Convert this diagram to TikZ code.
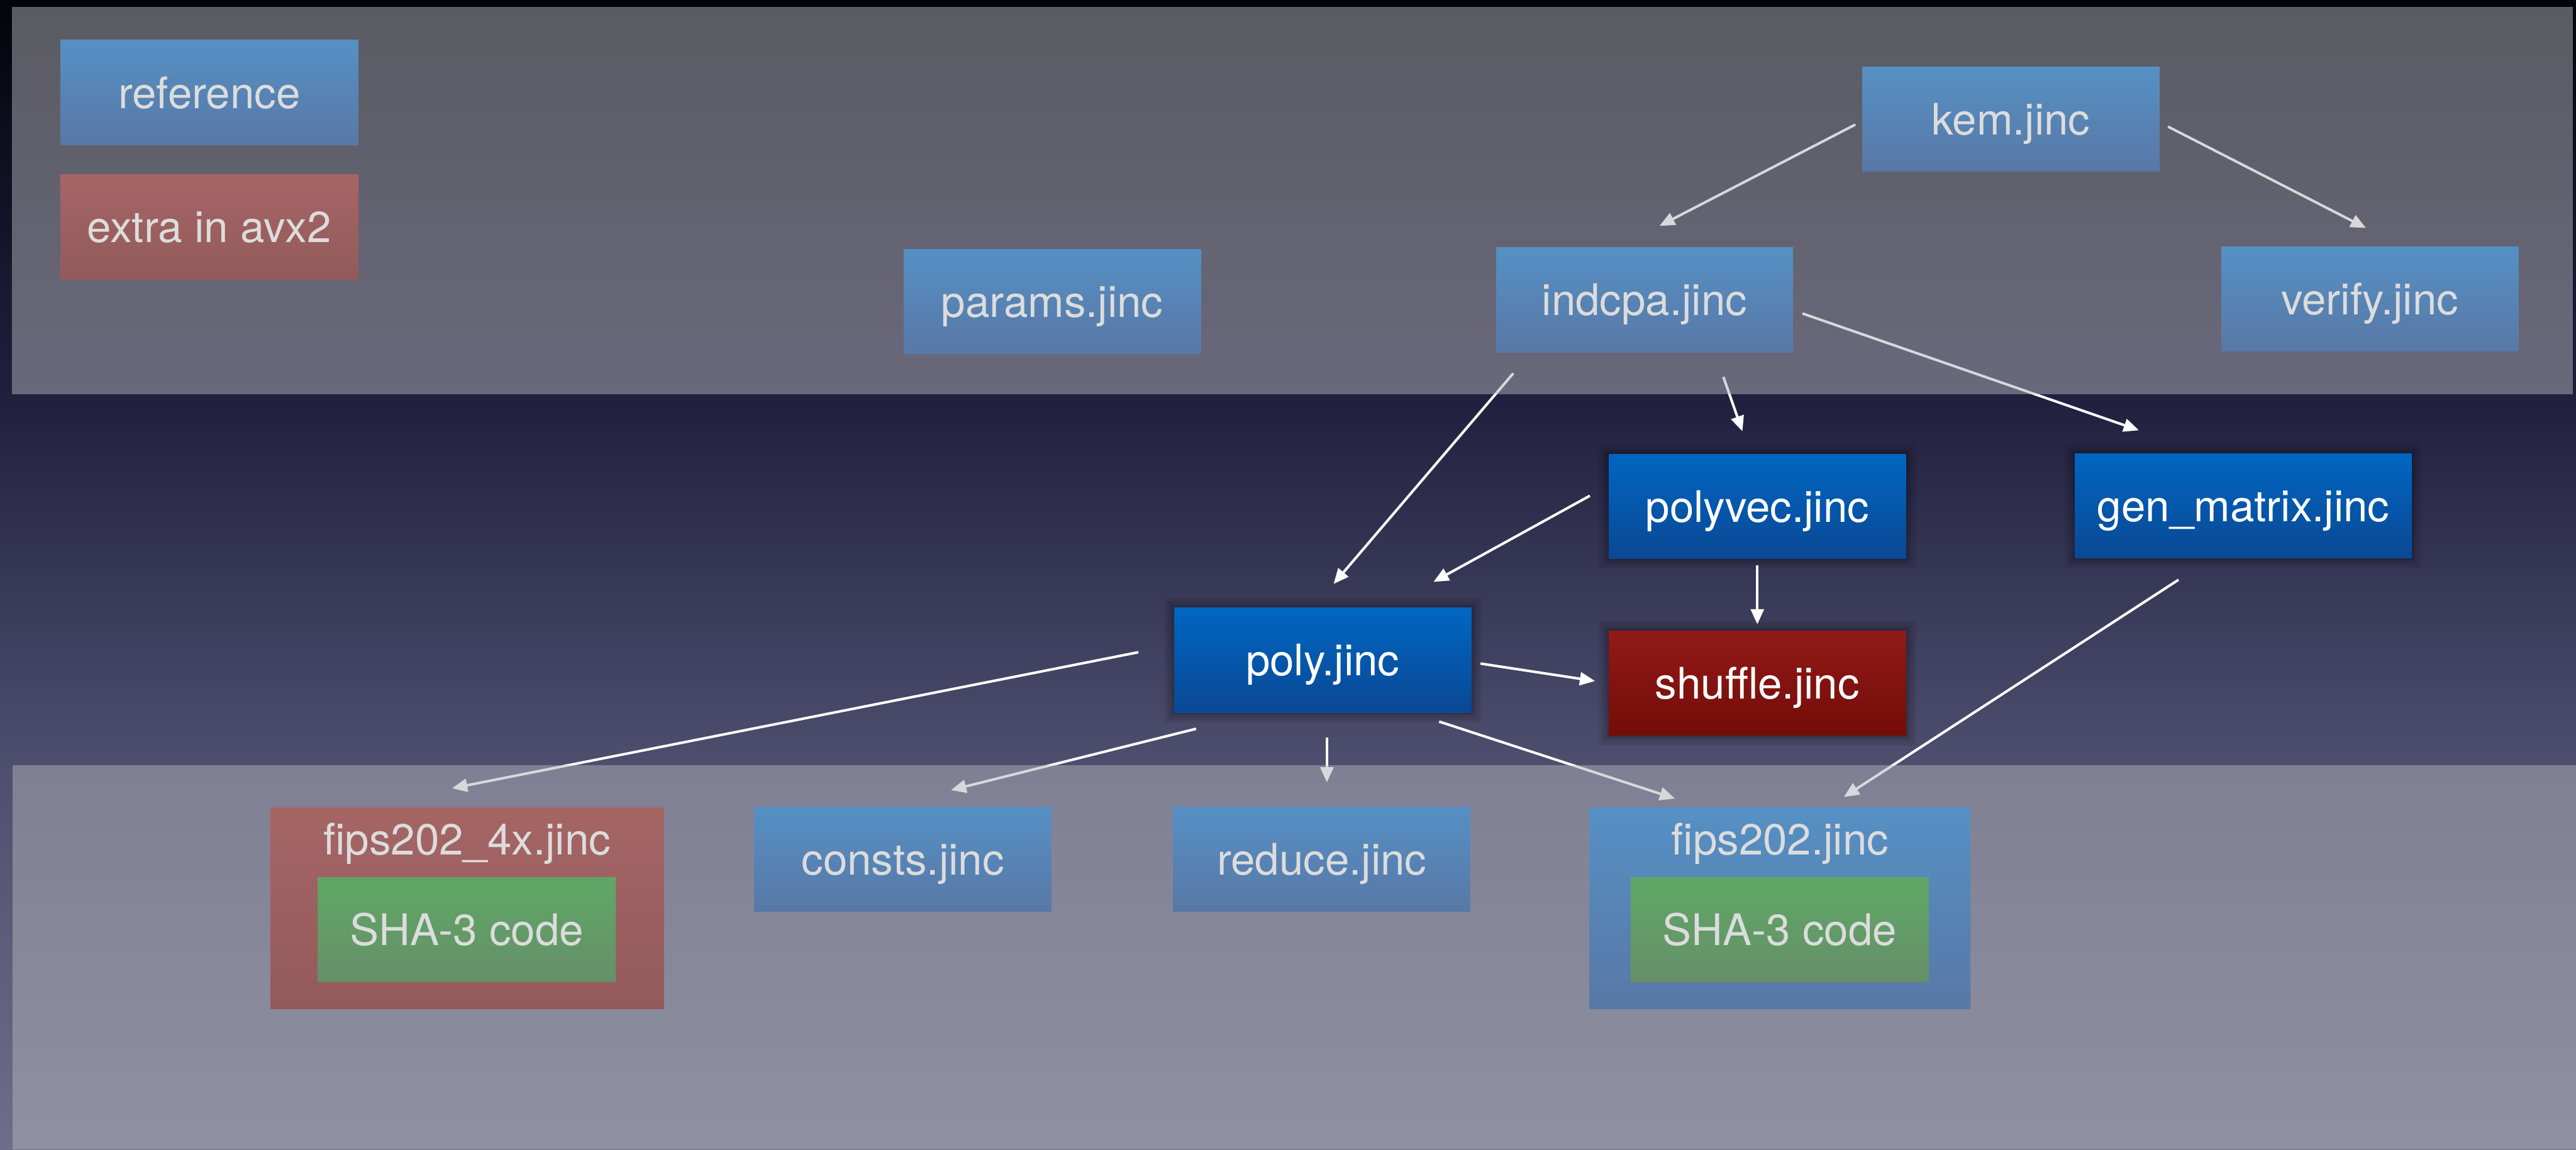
\documentclass[tikz,border=0pt]{standalone}
\usepackage{fontspec}
\setmainfont{TeX Gyre Heros}
\usetikzlibrary{arrows.meta}

% backdrop gradient stops
\definecolor{bgA}{RGB}{4,4,12}
\definecolor{bgB}{RGB}{32,32,62}
\definecolor{bgC}{RGB}{78,78,110}
\definecolor{bgD}{RGB}{110,110,138}
% translucent band over the top and bottom rows
\definecolor{veil}{RGB}{178,178,186}
% vivid boxes (middle row)
\definecolor{vblueT}{RGB}{0,102,194}
\definecolor{vblueB}{RGB}{10,72,148}
\definecolor{vredT}{RGB}{146,26,24}
\definecolor{vredB}{RGB}{115,12,8}
% muted boxes (inside the bands)
\definecolor{mblueT}{RGB}{86,144,196}
\definecolor{mblueB}{RGB}{88,120,166}
\definecolor{mredT}{RGB}{165,101,101}
\definecolor{mredB}{RGB}{147,90,91}
\definecolor{mgreenT}{RGB}{94,168,102}
\definecolor{mgreenB}{RGB}{103,143,105}
\definecolor{mtext}{RGB}{220,220,220}

\pgfdeclarelayer{backdrop}
\pgfdeclarelayer{links}
\pgfdeclarelayer{veils}
\pgfsetlayers{backdrop,links,veils,main}

\tikzset{
  file/.style={rectangle, inner sep=0pt, minimum width=5.77cm, minimum height=2.03cm,
    text height=17.3pt, text depth=0pt, font=\fontsize{24}{28}\selectfont},
  % soft dark glow round the vivid boxes
  halo/.style={
    preaction={draw=black, draw opacity=0.05, line width=0.40cm},
    preaction={draw=black, draw opacity=0.05, line width=0.30cm},
    preaction={draw=black, draw opacity=0.06, line width=0.21cm},
    preaction={draw=black, draw opacity=0.07, line width=0.13cm},
    preaction={draw=black, draw opacity=0.08, line width=0.06cm}},
  lit/.style={file, halo, top color=vblueT, bottom color=vblueB, text=white},
  litred/.style={lit, top color=vredT, bottom color=vredB},
  dim/.style={file, top color=mblueT, bottom color=mblueB, text=mtext},
  dimred/.style={dim, top color=mredT, bottom color=mredB},
  dimgreen/.style={dim, top color=mgreenT, bottom color=mgreenB},
  caption/.style={anchor=base, inner sep=0pt, text=mtext, font=\fontsize{24}{28}\selectfont},
  link/.style={draw=white, line width=1.4pt, -{Triangle[length=8.4pt,width=7.2pt]}},
}

\begin{document}
\begin{tikzpicture}
\useasboundingbox (0,0) rectangle (50.03,-22.33);

% backdrop
\begin{pgfonlayer}{backdrop}
  \shade[top color=bgA, bottom color=bgB] (0,0) rectangle (50.03,-7.66);
  \shade[top color=bgB, bottom color=bgC] (0,-7.66) rectangle (50.03,-14.87);
  \shade[top color=bgC, bottom color=bgD] (0,-14.87) rectangle (50.03,-22.33);
\end{pgfonlayer}

% translucent bands
\begin{pgfonlayer}{veils}
  \fill[veil, opacity=0.5] (0.23,-0.14) rectangle (49.97,-7.66);
  \fill[veil, opacity=0.5] (0.24,-14.87) rectangle (50.03,-22.33);
\end{pgfonlayer}

% legend
\node[dim, minimum width=5.79cm, minimum height=2.04cm] (legref) at (4.065,-1.80) {reference};
\node[dimred, minimum width=5.79cm, minimum height=2.04cm] (legextra) at (4.065,-4.41) {extra in avx2};

% top row
\node[dim] (kem) at (39.055,-2.315) {kem.jinc};
\node[dim] (indcpa) at (31.94,-5.825) {indcpa.jinc};
\node[dim] (params) at (20.435,-5.855) {params.jinc};
\node[dim] (verify) at (46.025,-5.81) {verify.jinc};

% middle row
\node[lit] (polyvec) at (34.13,-9.84) {polyvec.jinc};
\node[lit, minimum width=6.54cm] (genmatrix) at (43.57,-9.83) {gen\_matrix.jinc};
\node[lit] (poly) at (25.69,-12.825) {poly.jinc};
\node[litred] (shuffle) at (34.13,-13.27) {shuffle.jinc};

% bottom row
\node[dim] (consts) at (17.535,-16.69) {consts.jinc};
\node[dim] (reduce) at (25.67,-16.69) {reduce.jinc};

\node[dimred, minimum width=7.64cm, minimum height=3.91cm] (fipsx) at (9.07,-17.645) {};
\node[caption] (fipsxcap) at (9.07,-16.60) {fips202\_4x.jinc};
\node[dimgreen, minimum width=5.79cm] (shax) at (9.065,-18.055) {SHA-3 code};

\node[dim, minimum width=7.40cm, minimum height=3.91cm] (fips) at (34.57,-17.645) {};
\node[caption] (fipscap) at (34.57,-16.60) {fips202.jinc};
\node[dimgreen, minimum width=5.79cm] (sha) at (34.565,-18.055) {SHA-3 code};

% dependency arrows
\begin{pgfonlayer}{links}
  \draw[link] ([shift={(-0.13,-0.105)}]kem.west) -- ([shift={(0.29,0.415)}]indcpa.north);
  \draw[link] ([shift={(0.16,-0.145)}]kem.east) -- ([shift={(-0.075,0.36)}]verify.north);
  \draw[link] ([shift={(-2.55,-0.405)}]indcpa.south) -- ([shift={(0.21,0.46)}]poly.north);
  \draw[link] ([shift={(1.53,-0.475)}]indcpa.south) -- ([shift={(-0.29,0.44)}]polyvec.north);
  \draw[link] ([shift={(0.175,-0.265)}]indcpa.east) -- ([shift={(-2.03,0.45)}]genmatrix.north);
  \draw[link] ([shift={(-0.36,0.21)}]polyvec.west) -- ([shift={(2.15,0.5)}]poly.north);
  \draw[link] ([shift={(0,-0.12)}]polyvec.south) -- ([shift={(0,0.12)}]shuffle.north);
  \draw[link] ([shift={(0.17,-0.065)}]poly.east) -- ([shift={(-0.26,0.04)}]shuffle.west);
  \draw[link] ([shift={(-0.69,0.155)}]poly.west) -- ([shift={(-0.29,0.37)}]fipsx.north);
  \draw[link] ([shift={(-2.46,-0.31)}]poly.south) -- ([shift={(0.935,0.32)}]consts.north);
  \draw[link] ([shift={(0.08,-0.48)}]poly.south) -- ([shift={(0.1,0.47)}]reduce.north);
  \draw[link] ([shift={(2.26,-0.17)}]poly.south) -- ([shift={(-2.04,0.17)}]fips.north);
  \draw[link] ([shift={(-1.26,-0.41)}]genmatrix.south) -- ([shift={(1.24,0.2)}]fips.north);
\end{pgfonlayer}
\end{tikzpicture}
\end{document}
